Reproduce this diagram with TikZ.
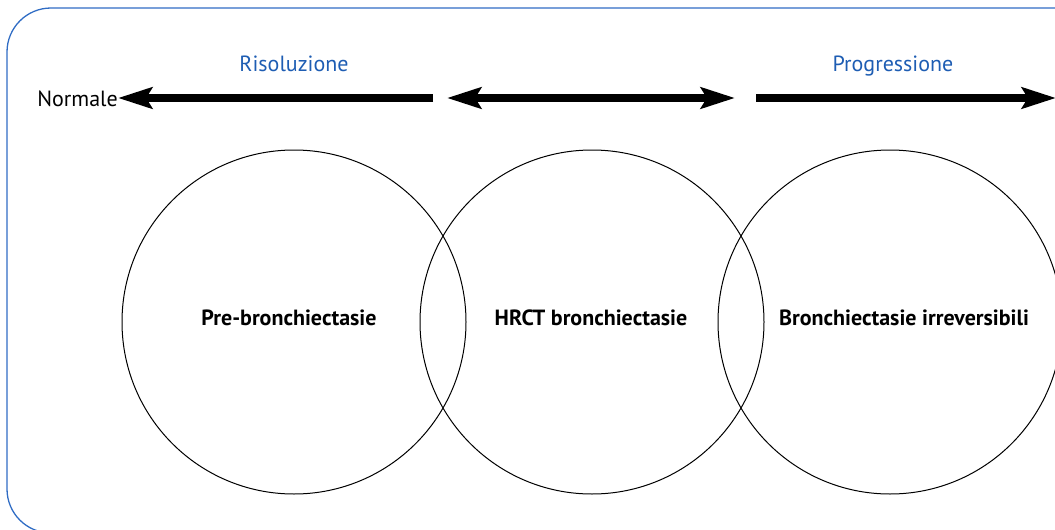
\documentclass[tikz,border=0pt]{standalone}
\usepackage{fontspec}
\setmainfont{PT Sans}
\usetikzlibrary{arrows.meta}
\definecolor{frameblue}{HTML}{2F6CC4}
\definecolor{textblue}{HTML}{1E5DB3}
\tikzset{
  phase/.style={draw=black, line width=1pt, circle, minimum size=344pt, inner sep=0pt},
  phaselabel/.style={font=\fontsize{22}{26}\selectfont\bfseries, inner sep=0pt, anchor=base},
  toplabel/.style={font=\fontsize{22}{26}\selectfont, text=textblue, inner sep=0pt, anchor=base},
  bigarrow/.style={line width=8pt, -{Stealth[length=34pt,width=21pt,inset=6pt]}},
  bigdarrow/.style={line width=8pt, {Stealth[length=34pt,width=21pt,inset=6pt]}-{Stealth[length=34pt,width=21pt,inset=6pt]}}
}
\begin{document}
\begin{tikzpicture}[x=1pt,y=-1pt]
\useasboundingbox (0,0) rectangle (1055,530);
\begin{scope}
\clip (0,0) rectangle (1055,530);
\draw[frameblue, line width=1.3pt, rounded corners=44pt] (1200,8) -- (7,8) -- (7,533) -- (1200,533);
\end{scope}
\node[phase] (c1) at (294,322) {};
\node[phase] (c2) at (592,322) {};
\node[phase] (c3) at (890,322) {};
\node[phaselabel] (l1) at (289,325) {Pre-bronchiectasie};
\node[phaselabel] (l2) at (591,325) {HRCT bronchiectasie};
\node[phaselabel] (l3) at (904,325) {Bronchiectasie irreversibili};
\node[toplabel] (ris) at (294,71) {Risoluzione};
\node[toplabel] (prog) at (893,71) {Progressione};
\node[inner sep=0pt, anchor=base east, font=\fontsize{22}{26}\selectfont] (norm) at (118,106) {Normale};
\coordinate (a1s) at (433,98);
\coordinate (a2l) at (447,98);
\coordinate (a2r) at (735,98);
\coordinate (a3s) at (756,98);
\coordinate (a3e) at (1056,98);
\draw[bigarrow] (a1s) -- (norm.east |- a1s);
\draw[bigdarrow] (a2l) -- (a2r);
\draw[bigarrow] (a3s) -- (a3e);
\end{tikzpicture}
\end{document}
